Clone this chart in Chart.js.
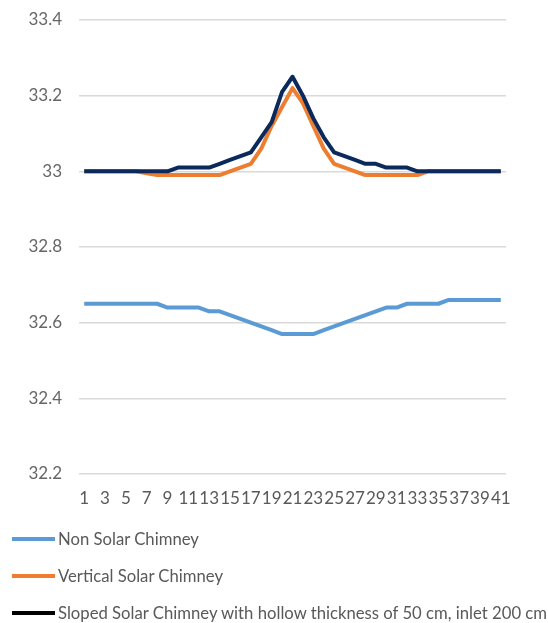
<!DOCTYPE html>
<html><head><meta charset="utf-8">
<script src="https://cdn.jsdelivr.net/npm/chart.js@4.4.1/dist/chart.umd.min.js"></script>
<style>
html,body{margin:0;padding:0;background:#fff;}
#wrap{position:relative;width:548px;height:623px;overflow:hidden;}
#c{position:absolute;left:0;top:0;}
#legend{position:absolute;left:12px;top:520px;font-family:Lato,sans-serif;font-size:16.7px;color:#595959;}
.item{display:flex;align-items:center;height:37px;white-space:nowrap;}
.swatch{width:43px;height:4px;margin-right:3px;flex:none;}
</style></head><body>
<div id="wrap"><canvas id="c"></canvas><div id="legend"></div></div>
<script>
const categories = ["1","2","3","4","5","6","7","8","9","10","11","12","13","14","15","16","17","18","19","20","21","22","23","24","25","26","27","28","29","30","31","32","33","34","35","36","37","38","39","40","41"];
const seriesNames = ["Non Solar Chimney","Vertical Solar Chimney","Sloped Solar Chimney with hollow thickness of 50 cm, inlet 200 cm"];
const nonSolar = [32.65,32.65,32.65,32.65,32.65,32.65,32.65,32.65,32.64,32.64,32.64,32.64,32.63,32.63,32.62,32.61,32.60,32.59,32.58,32.57,32.57,32.57,32.57,32.58,32.59,32.60,32.61,32.62,32.63,32.64,32.64,32.65,32.65,32.65,32.65,32.66,32.66,32.66,32.66,32.66,32.66];
const vertical = [33.00,33.00,33.00,33.00,33.00,33.00,32.995,32.99,32.99,32.99,32.99,32.99,32.99,32.99,33.00,33.01,33.02,33.06,33.12,33.17,33.22,33.18,33.12,33.06,33.02,33.01,33.00,32.99,32.99,32.99,32.99,32.99,32.99,33.00,33.00,33.00,33.00,33.00,33.00,33.00,33.00];
const sloped = [33.00,33.00,33.00,33.00,33.00,33.00,33.00,33.00,33.00,33.01,33.01,33.01,33.01,33.02,33.03,33.04,33.05,33.09,33.13,33.21,33.25,33.20,33.14,33.09,33.05,33.04,33.03,33.02,33.02,33.01,33.01,33.01,33.00,33.00,33.00,33.00,33.00,33.00,33.00,33.00,33.00];
const yTicks = [32.2,32.4,32.6,32.8,33,33.2,33.4];

const lineColors = ["#5B9BD5","#ED7D31","#0B2A5B"];
const legendColors = ["#5B9BD5","#ED7D31","#000000"];

const canvas = document.getElementById('c');
canvas.style.width = '548px'; canvas.style.height = '623px';

const chart = new Chart(canvas, {
  type: 'line',
  data: {
    labels: categories,
    datasets: [
      {label: seriesNames[0], data: nonSolar, borderColor: lineColors[0], order: 2},
      {label: seriesNames[1], data: vertical, borderColor: lineColors[1], order: 1},
      {label: seriesNames[2], data: sloped, borderColor: lineColors[2], order: 0}
    ]
  },
  options: {
    responsive: false,
    animation: false,
    devicePixelRatio: 1,
    layout: {padding: {top: 20, right: 42, bottom: 118, left: 0}},
    elements: {
      line: {borderWidth: 4, tension: 0, borderJoinStyle: 'round', fill: false},
      point: {radius: 0, hoverRadius: 0}
    },
    plugins: {legend: {display: false}, tooltip: {enabled: false}},
    scales: {
      x: {
        type: 'category',
        offset: true,
        grid: {display: false, drawTicks: false},
        border: {display: false},
        ticks: {
          autoSkip: false, maxRotation: 0, minRotation: 0, padding: 14,
          color: '#595959', font: {family: 'Lato', size: 17},
          callback: function(v, i) { return i % 2 === 0 ? categories[i] : ''; }
        },
        afterFit: function(s) { s.height = 31; }
      },
      y: {
        min: 32.2, max: 33.4,
        afterBuildTicks: function(s) { s.ticks = yTicks.map(v => ({value: v})); },
        grid: {color: '#D9D9D9', lineWidth: 1.5, drawTicks: true, tickLength: 17, tickColor: 'rgba(0,0,0,0)'},
        border: {display: false},
        ticks: {
          padding: 0, color: '#666666', font: {family: 'Lato', size: 17},
          callback: function(v) { return String(parseFloat(Number(v).toFixed(1))); }
        },
        afterFit: function(s) { s.width = 79; }
      }
    }
  }
});

const legend = document.getElementById('legend');
chart.data.datasets.forEach((ds, i) => {
  const item = document.createElement('div'); item.className = 'item';
  const sw = document.createElement('span'); sw.className = 'swatch'; sw.style.background = legendColors[i];
  const tx = document.createElement('span'); tx.textContent = ds.label;
  item.appendChild(sw); item.appendChild(tx); legend.appendChild(item);
});
</script>
</body></html>
